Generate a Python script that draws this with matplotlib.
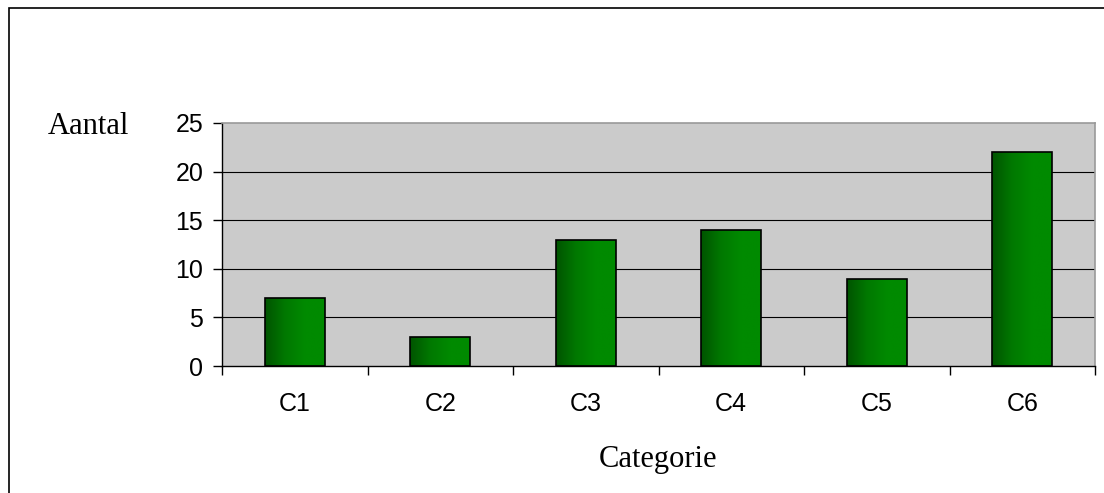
import matplotlib
matplotlib.use("Agg")
from matplotlib import pyplot as plt
from matplotlib.patches import Rectangle
from matplotlib.colors import LinearSegmentedColormap
import numpy as np

categories = ['C1', 'C2', 'C3', 'C4', 'C5', 'C6']
values = [7, 3, 13, 14, 9, 22]
y_ticks = [0, 5, 10, 15, 20, 25]

fig = plt.figure(figsize=(11.04, 4.93), dpi=100)
ax = fig.add_axes([222 / 1104, 1 - 366 / 493, (1095 - 222) / 1104, (366 - 123) / 493])
ax.set_facecolor('#cbcbcb')

# outer chart border (runs off the right and bottom edges)
fig.patches.append(Rectangle((9 / 1104, -0.1), 1.2, 1 - 8 / 493 + 0.1,
                             transform=fig.transFigure, fill=False,
                             edgecolor='black', linewidth=1.2))

x = np.arange(len(categories))

for yv in y_ticks[1:-1]:
    ax.axhline(yv, color='black', linewidth=0.8, zorder=1)

# horizontal gradient, dark green on the left, brighter to the right
green = LinearSegmentedColormap.from_list('g', ['#005400', '#007800', '#008a00', '#008a00'])
grad = np.linspace(0, 1, 256).reshape(1, -1)

bars = ax.bar(x, values, width=0.41, facecolor='none', edgecolor='black',
              linewidth=1.2, zorder=3)
for b in bars:
    x0, w, h = b.get_x(), b.get_width(), b.get_height()
    im = ax.imshow(grad, cmap=green, aspect='auto', extent=(x0, x0 + w, 0, h),
                   zorder=2, interpolation='bilinear')
    im.set_clip_path(b)
ax.set_xlim(-0.5, len(categories) - 0.5)
ax.set_ylim(0, 25)

ax.set_yticks(y_ticks)
ax.set_yticklabels([str(v) for v in y_ticks], fontsize=18, family='Liberation Sans')
ax.tick_params(axis='y', direction='out', length=6.5, width=1, pad=7)

ax.set_xticks(np.arange(-0.5, len(categories)), minor=False)
ax.set_xticklabels([])
ax.set_xticks(x, minor=True)
ax.set_xticklabels(categories, minor=True, fontsize=18, family='Liberation Sans')
ax.tick_params(axis='x', which='major', direction='out', length=6.5, width=1)
ax.tick_params(axis='x', which='minor', length=0, pad=19)

for s in ['left', 'bottom']:
    ax.spines[s].set_color('black')
    ax.spines[s].set_linewidth(1)
for s in ['top', 'right']:
    ax.spines[s].set_color('#999999')
    ax.spines[s].set_linewidth(1.2)

fig.text(48 / 1104, 1 - 127 / 493, 'Aantal', fontsize=22, family='Liberation Serif',
         ha='left', va='center')
fig.text(658 / 1104, 1 - 460 / 493, 'Categorie', fontsize=22, family='Liberation Serif',
         ha='center', va='center')

fig.savefig('out.png', dpi=100)
